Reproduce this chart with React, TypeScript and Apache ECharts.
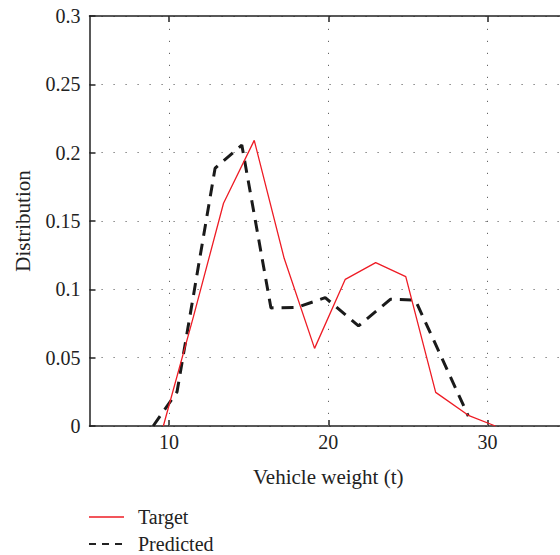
import React, { useEffect, useRef } from "react";
import * as echarts from "echarts";

const targetX = [9.64, 11.53, 13.42, 15.35, 17.23, 19.14, 21.07, 22.98, 24.87, 26.75, 28.8, 30.5];
const targetY = [0, 0.08, 0.163, 0.209, 0.1227, 0.0568, 0.1073, 0.1195, 0.1093, 0.0246, 0.0078, 0];
const predictedX = [9.0, 10.5, 12.89, 14.57, 16.4, 18.03, 19.81, 21.9, 23.9, 25.47, 28.8];
const predictedY = [0, 0.025, 0.1886, 0.2056, 0.0864, 0.0868, 0.0939, 0.0732, 0.0927, 0.0922, 0.0073];
const xTicks = [10, 20, 30];
const seriesNames = ["Target", "Predicted"];

const FONT = "Liberation Serif";
const HIDDEN = { color: "rgba(0,0,0,0)", borderColor: "rgba(0,0,0,0)", borderWidth: 0, opacity: 0 };

export default function App() {
  const ref = useRef<HTMLDivElement>(null);
  useEffect(() => {
    if (!ref.current) return;
    const chart = echarts.init(ref.current, null, { renderer: "svg" });
    const axisLineStyle = { color: "#222", width: 1.5 };
    const gridLine = { show: true, lineStyle: { color: "#666", width: 1, type: [1.2, 10.8] } };
    chart.setOption({
      animation: false,
      backgroundColor: "#fff",
      textStyle: { fontFamily: FONT },
      grid: { left: 89.5, top: 16, right: 0, bottom: 129, containLabel: false },
      legend: {
        orient: "vertical",
        left: 88,
        top: 507,
        padding: 0,
        itemWidth: 35,
        itemHeight: 16,
        itemGap: 7,
        textStyle: { fontFamily: FONT, fontSize: 20, color: "#222", padding: [0, 0, 0, 9] },
        data: [
          { name: seriesNames[0], itemStyle: HIDDEN, lineStyle: { color: "#ee1c25", width: 1.3 } },
          { name: seriesNames[1], itemStyle: HIDDEN, lineStyle: { color: "#222", width: 2, type: [7, 6] } },
        ],
      },
      xAxis: [
        {
          type: "value",
          min: 5,
          max: 35,
          interval: 5,
          name: "Vehicle weight (t)",
          nameLocation: "middle",
          nameGap: 40,
          nameTextStyle: { fontFamily: FONT, fontSize: 21, color: "#222", verticalAlign: "top" },
          axisLine: { show: true, onZero: false, lineStyle: axisLineStyle },
          axisTick: { show: true, inside: true, length: 6, customValues: xTicks, lineStyle: axisLineStyle },
          axisLabel: { customValues: xTicks, fontFamily: FONT, fontSize: 20, color: "#222", margin: 6 },
          splitLine: { show: false },
        },
        {
          type: "value",
          position: "top",
          min: 5,
          max: 35,
          interval: 5,
          axisLine: { show: true, onZero: false, lineStyle: axisLineStyle },
          axisTick: { show: true, inside: true, length: 6, customValues: xTicks, lineStyle: axisLineStyle },
          axisLabel: { show: false },
          splitLine: { show: false },
        },
      ],
      yAxis: [
        {
          type: "value",
          min: 0,
          max: 0.3,
          interval: 0.05,
          name: "Distribution",
          nameLocation: "middle",
          nameGap: 56,
          nameTextStyle: { fontFamily: FONT, fontSize: 21, color: "#222" },
          axisLine: { show: true, onZero: false, lineStyle: axisLineStyle },
          axisTick: { show: true, inside: true, length: 6, lineStyle: axisLineStyle },
          axisLabel: { fontFamily: FONT, fontSize: 20, color: "#222", margin: 9 },
          splitLine: gridLine,
        },
        {
          type: "value",
          position: "right",
          min: 0,
          max: 0.3,
          interval: 0.05,
          axisLine: { show: true, onZero: false, lineStyle: axisLineStyle },
          axisTick: { show: true, inside: true, length: 6, lineStyle: axisLineStyle },
          axisLabel: { show: false },
          splitLine: { show: false },
        },
      ],
      series: [
        {
          name: seriesNames[1],
          type: "line",
          symbol: "none",
          z: 3,
          data: predictedX.map((x, i) => [x, predictedY[i]]),
          lineStyle: { color: "#1a1a1a", width: 3, type: [12, 8] },
          itemStyle: { color: "#1a1a1a" },
          markLine: {
            silent: true,
            symbol: "none",
            label: { show: false },
            lineStyle: { color: "#666", width: 1, type: [1.2, 10.8] },
            data: xTicks.map((v) => ({ xAxis: v })),
            z: 1,
          },
        },
        {
          name: seriesNames[0],
          type: "line",
          symbol: "none",
          z: 4,
          data: targetX.map((x, i) => [x, targetY[i]]),
          lineStyle: { color: "#ee1c25", width: 1.3 },
          itemStyle: { color: "#ee1c25" },
        },
      ],
    });
    return () => chart.dispose();
  }, []);
  return (
    <div style={{ position: "fixed", left: 0, top: 0, width: 560, height: 555, overflow: "hidden", background: "#fff" }}>
      <div ref={ref} style={{ width: 567, height: 555 }} />
    </div>
  );
}
